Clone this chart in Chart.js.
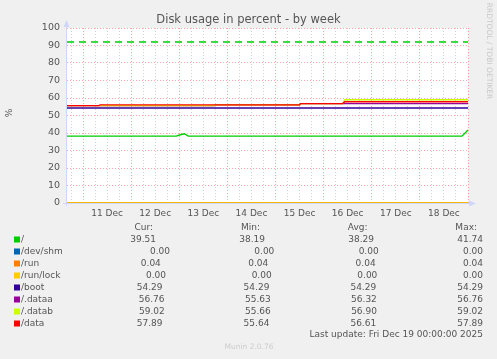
<!DOCTYPE html>
<html>
<head>
<meta charset="utf-8">
<title>Disk usage in percent - by week</title>
<script src="https://cdn.jsdelivr.net/npm/chart.js@4/dist/chart.umd.min.js"></script>
<style>
  html, body { margin: 0; padding: 0; background: #f0f0f0; }
  #wrap { width: 497px; height: 359px; }
</style>
</head>
<body>
<div id="wrap"><canvas id="diskChart" width="497" height="359"></canvas></div>
<script>
'use strict';

// x = hours since Wed Dec 10 16:00 (graph ends Fri Dec 19 00:00 = 200h)
var hours    = [0, 16, 16.5, 54.5, 56.5, 58.5, 60.5, 73.5, 74, 116, 116.5, 137.5, 138.5, 197, 200];
var rootPct  = [38.2, 38.2, 38.2, 38.2, 39.0, 39.6, 38.2, 38.2, 38.2, 38.2, 38.2, 38.2, 38.2, 38.2, 41.74];
var shmPct   = [0, 0, 0, 0, 0, 0, 0, 0, 0, 0, 0, 0, 0, 0, 0];
var runPct   = [0.04, 0.04, 0.04, 0.04, 0.04, 0.04, 0.04, 0.04, 0.04, 0.04, 0.04, 0.04, 0.04, 0.04, 0.04];
var lockPct  = [0, 0, 0, 0, 0, 0, 0, 0, 0, 0, 0, 0, 0, 0, 0];
var bootPct  = [54.29, 54.29, 54.29, 54.29, 54.29, 54.29, 54.29, 54.29, 54.29, 54.29, 54.29, 54.29, 54.29, 54.29, 54.29];
var dataaPct = [55.63, 55.63, 55.63, 55.63, 55.63, 55.63, 55.63, 55.63, 56.1, 56.1, 56.76, 56.76, 56.76, 56.76, 56.76];
var databPct = [55.66, 55.66, 55.66, 55.66, 55.66, 55.66, 55.66, 55.66, 56.1, 56.1, 56.8, 56.8, 59.02, 59.02, 59.02];
var dataPct  = [55.64, 55.64, 56.1, 56.1, 56.1, 56.1, 56.1, 56.1, 56.1, 56.1, 56.8, 56.8, 57.89, 57.89, 57.89];
var warningLevel = 92;

var seriesLabels = ['/', '/dev/shm', '/run', '/run/lock', '/boot', '/.dataa', '/.datab', '/data'];
var seriesColors = ['#00cc00', '#0066b3', '#ff8000', '#ffcc00', '#330099', '#990099', '#ccff00', '#ff0000'];
var seriesValues = [rootPct, shmPct, runPct, lockPct, bootPct, dataaPct, databPct, dataPct];

var curValues = [39.51, 0.00, 0.04, 0.00, 54.29, 56.76, 59.02, 57.89];
var minValues = [38.19, 0.00, 0.04, 0.00, 54.29, 55.63, 55.66, 55.64];
var avgValues = [38.29, 0.00, 0.04, 0.00, 54.29, 56.32, 56.90, 56.61];
var maxValues = [41.74, 0.00, 0.04, 0.00, 54.29, 56.76, 59.02, 57.89];

var dayLabels  = ['11 Dec', '12 Dec', '13 Dec', '14 Dec', '15 Dec', '16 Dec', '17 Dec', '18 Dec'];
var labelHours = [20, 44, 68, 92, 116, 140, 164, 188];

var titleText  = 'Disk usage in percent - by week';
var yAxisTitle = '%';
var lastUpdate = 'Last update: Fri Dec 19 00:00:00 2025';
var sideText   = 'RRDTOOL / TOBI OETIKER';
var versionText = 'Munin 2.0.76';

var FONT = '"DejaVu Sans", sans-serif';
var TEXT = '#555555';
var AXIS = '#cfd6f8';
var MGRID = 'rgba(255, 95, 95, 0.55)';
var GRID = 'rgba(150, 150, 150, 0.45)';

function toPoints(values) {
  return hours.map(function(h, i) { return { x: h, y: values[i] }; });
}

function fmt(v) {
  var s = v.toFixed(2);
  while (s.length < 6) s = ' ' + s;
  return s;
}

function pad(s, n) {
  while (s.length < n) s += ' ';
  return s;
}

// rrdtool "\j": spread the items evenly between x0 and x1
function drawJustified(ctx, items, x0, x1, y) {
  var widths = items.map(function(t) { return ctx.measureText(t).width; });
  var total = widths.reduce(function(a, b) { return a + b; }, 0);
  var gap = (x1 - x0 - total) / (items.length - 1);
  var x = x0;
  items.forEach(function(t, i) {
    ctx.fillText(t, x, y);
    x += widths[i] + gap;
  });
}

var muninDecor = {
  id: 'muninDecor',
  beforeDraw: function(chart) {
    var ctx = chart.ctx;
    var a = chart.chartArea;
    ctx.save();
    ctx.fillStyle = '#f0f0f0';
    ctx.fillRect(0, 0, chart.width, chart.height);
    ctx.fillStyle = '#ffffff';
    ctx.fillRect(a.left, a.top, a.right - a.left, a.bottom - a.top);
    ctx.restore();
  },
  beforeDatasetsDraw: function(chart) {
    var ctx = chart.ctx;
    var a = chart.chartArea;
    ctx.save();
    ctx.strokeStyle = AXIS;
    ctx.fillStyle = AXIS;
    ctx.lineWidth = 1;
    ctx.beginPath();
    ctx.moveTo(a.left - 0.5, a.bottom + 3);
    ctx.lineTo(a.left - 0.5, a.top - 4);
    ctx.moveTo(a.left - 4, a.bottom + 0.5);
    ctx.lineTo(a.right + 3, a.bottom + 0.5);
    ctx.stroke();
    ctx.beginPath();
    ctx.moveTo(a.left - 3.5, a.top - 1);
    ctx.lineTo(a.left + 2.5, a.top - 1);
    ctx.lineTo(a.left - 0.5, a.top - 8);
    ctx.closePath();
    ctx.fill();
    ctx.beginPath();
    ctx.moveTo(a.right + 1, a.bottom - 2.5);
    ctx.lineTo(a.right + 1, a.bottom + 3.5);
    ctx.lineTo(a.right + 8, a.bottom + 0.5);
    ctx.closePath();
    ctx.fill();
    ctx.restore();
  },
  afterDraw: function(chart) {
    var ctx = chart.ctx;
    ctx.save();
    ctx.fillStyle = TEXT;
    ctx.textBaseline = 'middle';

    ctx.font = '11.5px ' + FONT;
    ctx.textAlign = 'center';
    ctx.fillText(titleText, 248.5, 20);

    ctx.font = '9px ' + FONT;
    ctx.save();
    ctx.translate(10, 113);
    ctx.rotate(-Math.PI / 2);
    ctx.fillText(yAxisTitle, 0, 0);
    ctx.restore();

    ctx.save();
    ctx.fillStyle = '#c8c8c8';
    ctx.font = '7.5px ' + FONT;
    ctx.translate(489, 51);
    ctx.rotate(Math.PI / 2);
    ctx.fillText(sideText, 0, 0);
    ctx.restore();

    ctx.textAlign = 'left';
    drawJustified(ctx, [pad('', 9), 'Cur:', 'Min:', 'Avg:', 'Max:'], 21, 477, 227.5);
    seriesLabels.forEach(function(name, i) {
      var y = 239.5 + i * 12;
      ctx.fillStyle = seriesColors[i];
      ctx.fillRect(14, y - 3, 6, 6);
      ctx.fillStyle = TEXT;
      drawJustified(ctx, [pad(name, 9), fmt(curValues[i]), fmt(minValues[i]),
        fmt(avgValues[i]), fmt(maxValues[i])], 21, 483, y);
    });
    ctx.textAlign = 'right';
    ctx.fillText(lastUpdate, 483, 335);

    ctx.textAlign = 'center';
    ctx.fillStyle = '#cccccc';
    ctx.font = '7.5px ' + FONT;
    ctx.fillText(versionText, 249, 347);
    ctx.restore();
  }
};

function buildDatasets() {
  var sets = seriesLabels.map(function(name, i) {
    return {
      label: name,
      data: toPoints(seriesValues[i]),
      borderColor: seriesColors[i],
      borderWidth: 1.4,
      pointRadius: 0,
      tension: 0,
      fill: false,
      order: seriesLabels.length - i
    };
  });
  sets.push({
    label: 'warning',
    data: [{ x: hours[0], y: warningLevel }, { x: hours[hours.length - 1], y: warningLevel }],
    borderColor: '#00cc00',
    borderWidth: 1.4,
    borderDash: [7, 5],
    pointRadius: 0,
    fill: false,
    order: 20
  });
  return sets;
}

function renderChart() {
  var el = document.getElementById('diskChart');
  if (!el) return;
  new Chart(el, {
    type: 'line',
    data: { datasets: buildDatasets() },
    options: {
      responsive: false,
      animation: false,
      devicePixelRatio: 1,
      layout: { padding: { left: 0, top: 28, right: 29, bottom: 0 } },
      plugins: {
        legend: { display: false },
        title: { display: false },
        tooltip: { enabled: false }
      },
      scales: {
        x: {
          type: 'linear',
          min: hours[0],
          max: hours[hours.length - 1],
          afterFit: function(s) { s.height = 156; },
          afterBuildTicks: function(s) {
            var t = [];
            for (var h = 2; h <= 200; h += 6) t.push({ value: h });
            s.ticks = t;
          },
          grid: {
            drawTicks: false,
            lineWidth: 1,
            color: function(c) {
              return c.tick && c.tick.value % 24 === 8 ? MGRID : GRID;
            }
          },
          border: { display: false, dash: [1, 2] },
          ticks: {
            autoSkip: false,
            maxRotation: 0,
            padding: 5,
            color: TEXT,
            font: { family: FONT, size: 9 },
            callback: function(v) {
              var k = labelHours.indexOf(v);
              return k >= 0 ? dayLabels[k] : '';
            }
          }
        },
        y: {
          min: 0,
          max: 100,
          afterFit: function(s) { s.width = 67; },
          grid: {
            drawTicks: false,
            lineWidth: 1,
            color: function(c) {
              return c.tick && c.tick.value % 10 === 0 ? MGRID : GRID;
            }
          },
          border: { display: false, dash: [1, 2] },
          ticks: {
            stepSize: 5,
            padding: 7,
            color: TEXT,
            font: { family: FONT, size: 9.5 },
            callback: function(v) { return v % 10 === 0 ? String(v) : ''; }
          }
        }
      }
    },
    plugins: [muninDecor]
  });
}

if (document.readyState === 'loading') {
  document.addEventListener('DOMContentLoaded', renderChart);
} else {
  renderChart();
}
</script>
</body>
</html>
